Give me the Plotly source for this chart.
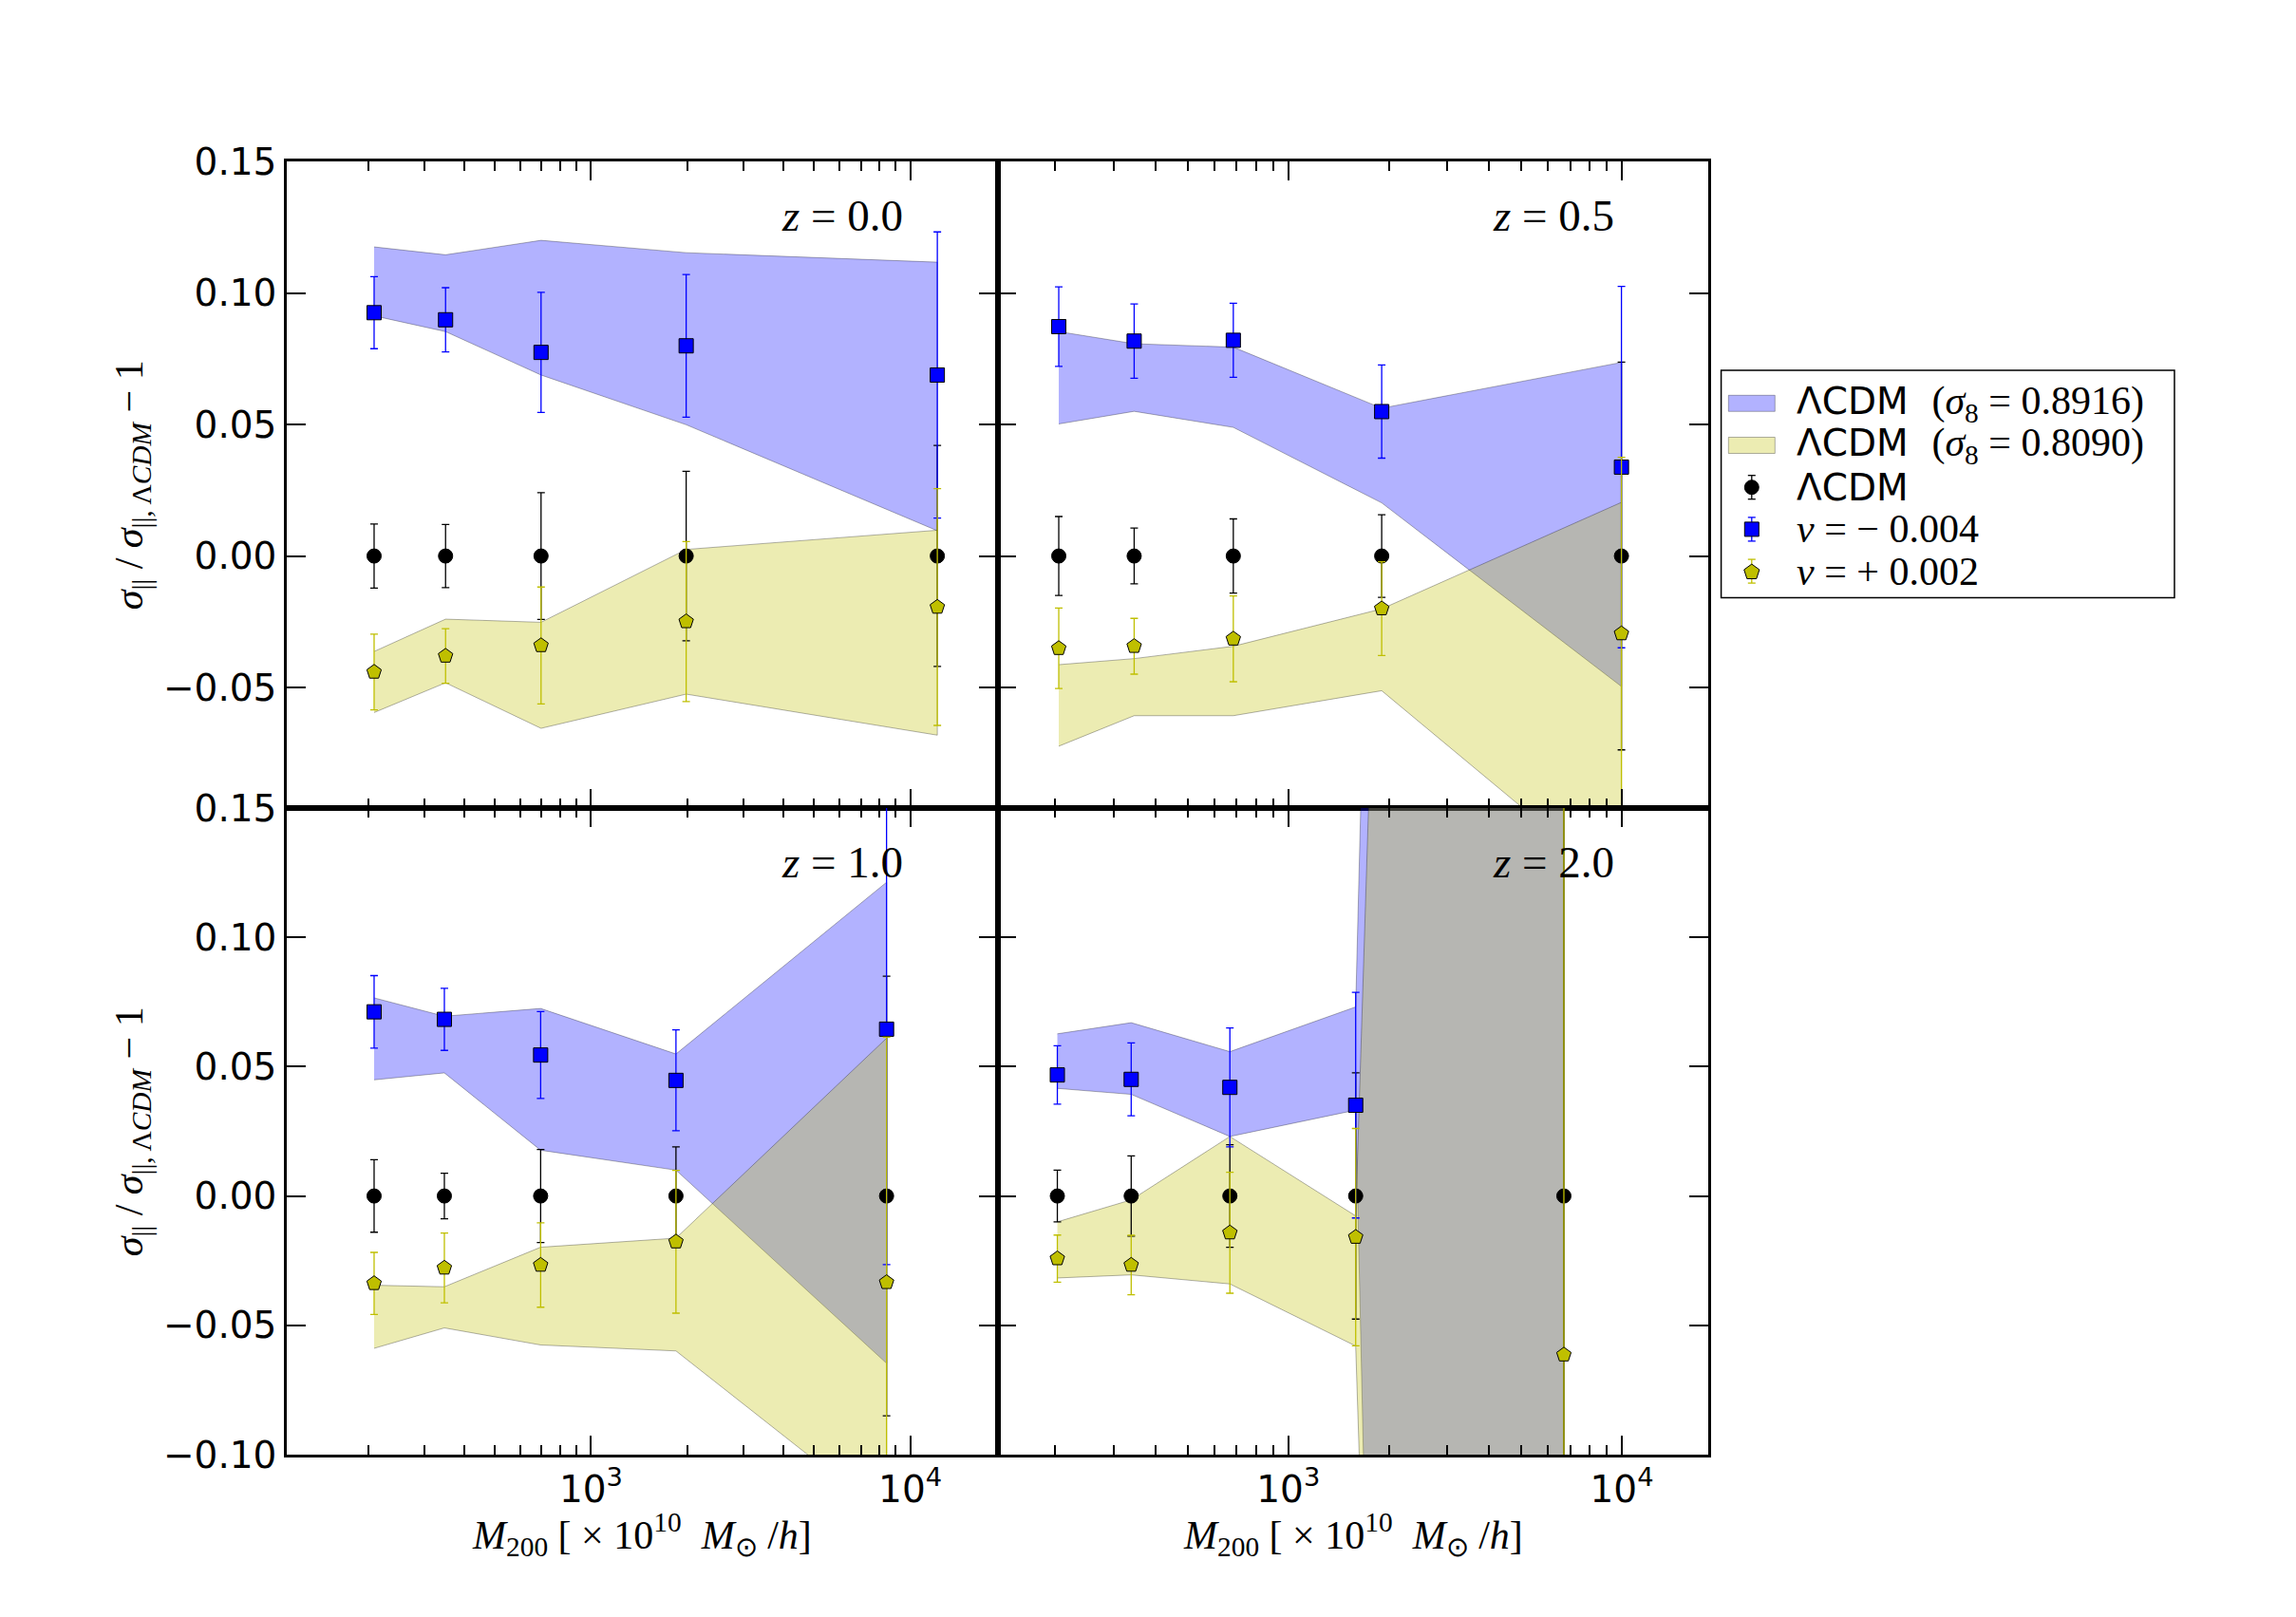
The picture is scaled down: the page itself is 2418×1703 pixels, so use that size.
import math
import plotly.graph_objects as go
from plotly.subplots import make_subplots

# ---------------- data ----------------
panel_labels = ["z = 0.0", "z = 0.5", "z = 1.0", "z = 2.0"]

# halo mass bins (x 10^10 Msun/h) per panel
x_z00 = [209, 350, 697, 1986, 12160]
x_z05 = [205, 345, 684, 1905, 9970]
x_z10 = [209, 347, 695, 1845, 8430]
x_z20 = [203, 338, 668, 1592, 6700]

# nu = -0.004 (blue squares)
blue_z00 = [0.0925, 0.0898, 0.0774, 0.0799, 0.0688]
blue_err_z00 = [0.0137, 0.0122, 0.0228, 0.0271, 0.0544]
blue_z05 = [0.0872, 0.0817, 0.0820, 0.0549, 0.0338]
blue_err_z05 = [0.0151, 0.0141, 0.0141, 0.0177, 0.0687]
blue_z10 = [0.0712, 0.0683, 0.0545, 0.0447, 0.0645]
blue_err_z10 = [0.0140, 0.0120, 0.0168, 0.0195, 0.0910]
blue_z20 = [0.0468, 0.0451, 0.0420, 0.0351, None]
blue_err_z20 = [0.0113, 0.0141, 0.0230, 0.0436, 0.0]

# LCDM reference (black circles)
black_z00 = [0.0, 0.0, 0.0, 0.0, 0.0]
black_err_z00 = [0.0122, 0.0120, 0.0241, 0.0322, 0.0420]
black_z05 = [0.0, 0.0, 0.0, 0.0, 0.0]
black_err_z05 = [0.0150, 0.0106, 0.0141, 0.0157, 0.0737]
black_z10 = [0.0, 0.0, 0.0, 0.0, 0.0]
black_err_z10 = [0.0140, 0.0088, 0.0180, 0.0190, 0.0850]
black_z20 = [0.0, 0.0, 0.0, 0.0, 0.0]
black_err_z20 = [0.0100, 0.0155, 0.0198, 0.0476, 0.5]

# nu = +0.002 (yellow pentagons)
yel_z00 = [-0.0441, -0.0380, -0.0340, -0.0249, -0.0194]
yel_err_z00 = [0.0144, 0.0104, 0.0222, 0.0304, 0.0450]
yel_z05 = [-0.0351, -0.0343, -0.0315, -0.0200, -0.0295]
yel_err_z05 = [0.0153, 0.0106, 0.0163, 0.0178, 0.0670]
yel_z10 = [-0.0338, -0.0278, -0.0267, -0.0177, -0.0334]
yel_err_z10 = [0.0120, 0.0135, 0.0163, 0.0276, 0.0948]
yel_z20 = [-0.0242, -0.0267, -0.0142, -0.0159, -0.0614]
yel_err_z20 = [0.0091, 0.0115, 0.0234, 0.0420, 1.0]

# LCDM sigma8 = 0.8916 band (blue)
bandB_up_z00 = [0.1175, 0.1145, 0.1200, 0.1153, 0.1117]
bandB_lo_z00 = [0.0913, 0.0853, 0.0688, 0.0499, 0.0096]
bandB_up_z05 = [0.0853, 0.0807, 0.0794, 0.0562, 0.0736]
bandB_lo_z05 = [0.0502, 0.0550, 0.0489, 0.0202, -0.0496]
bandB_up_z10 = [0.0766, 0.0695, 0.0725, 0.0549, 0.1213]
bandB_lo_z10 = [0.0449, 0.0476, 0.0177, 0.0100, -0.0647]
bandB_up_z20 = [0.0627, 0.0670, 0.0558, 0.0731, 3.27]
bandB_lo_z20 = [0.0416, 0.0393, 0.0230, 0.0332, -3.57]

# LCDM sigma8 = 0.8090 band (yellow)
bandY_up_z00 = [-0.0363, -0.0240, -0.0252, 0.0025, 0.0098]
bandY_lo_z00 = [-0.0595, -0.0482, -0.0655, -0.0525, -0.0681]
bandY_up_z05 = [-0.0413, -0.0390, -0.0343, -0.0201, 0.0204]
bandY_lo_z05 = [-0.0723, -0.0607, -0.0607, -0.0512, -0.1270]
bandY_up_z10 = [-0.0345, -0.0351, -0.0198, -0.0163, 0.0610]
bandY_lo_z10 = [-0.0589, -0.0510, -0.0576, -0.0599, -0.1240]
bandY_up_z20 = [-0.0100, -0.0015, 0.0230, -0.0077, 2.55]
bandY_lo_z20 = [-0.0317, -0.0305, -0.0340, -0.0580, -2.54]

SER = '<span style="font-family:Liberation Serif;font-size:42px">%s</span>'
legend_names = [
    'ΛCDM  ' + SER % '(<i>σ</i><sub>8</sub> = 0.8916)',
    'ΛCDM  ' + SER % '(<i>σ</i><sub>8</sub> = 0.8090)',
    'ΛCDM',
    SER % '<i>ν</i> = − 0.004',
    SER % '<i>ν</i> = + 0.002',
]

x_tickvals = [1000, 10000]
x_ticktext = ["10<sup>3</sup>", "10<sup>4</sup>"]
x_minor = [200, 300, 400, 500, 600, 700, 800, 900,
           2000, 3000, 4000, 5000, 6000, 7000, 8000, 9000]

# ---------------- figure ----------------
panels = [
    (1, 1, x_z00, blue_z00, blue_err_z00, black_z00, black_err_z00, yel_z00, yel_err_z00,
     bandB_up_z00, bandB_lo_z00, bandY_up_z00, bandY_lo_z00),
    (1, 2, x_z05, blue_z05, blue_err_z05, black_z05, black_err_z05, yel_z05, yel_err_z05,
     bandB_up_z05, bandB_lo_z05, bandY_up_z05, bandY_lo_z05),
    (2, 1, x_z10, blue_z10, blue_err_z10, black_z10, black_err_z10, yel_z10, yel_err_z10,
     bandB_up_z10, bandB_lo_z10, bandY_up_z10, bandY_lo_z10),
    (2, 2, x_z20, blue_z20, blue_err_z20, black_z20, black_err_z20, yel_z20, yel_err_z20,
     bandB_up_z20, bandB_lo_z20, bandY_up_z20, bandY_lo_z20),
]

fig = make_subplots(rows=2, cols=2, horizontal_spacing=0, vertical_spacing=0)

BLUE = "#0000ff"
YEL = "#bfbf00"
BLUE_FILL = "rgba(0,0,255,0.3)"
YEL_FILL = "rgba(191,191,0,0.3)"
edge = "rgba(0,0,0,0.3)"

for i, (r, c, xs, b, be, k, ke, y, ye, bu, bl, yu, yl) in enumerate(panels):
    fig.add_trace(go.Scatter(
        x=xs + xs[::-1], y=bu + bl[::-1], mode="lines", fill="toself",
        fillcolor=BLUE_FILL, line=dict(color=edge, width=1),
        name="LCDM s8=0.8916", showlegend=False), row=r, col=c)
    fig.add_trace(go.Scatter(
        x=xs + xs[::-1], y=yu + yl[::-1], mode="lines", fill="toself",
        fillcolor=YEL_FILL, line=dict(color=edge, width=1),
        name="LCDM s8=0.8090", showlegend=False), row=r, col=c)
    fig.add_trace(go.Scatter(
        x=xs, y=k, mode="markers",
        marker=dict(symbol="circle", size=15, color="black", line=dict(color="black", width=1)),
        error_y=dict(type="data", array=ke, color="black", thickness=1.3, width=4),
        name="LCDM", showlegend=False), row=r, col=c)
    fig.add_trace(go.Scatter(
        x=xs, y=b, mode="markers",
        marker=dict(symbol="square", size=15, color=BLUE, line=dict(color="black", width=1)),
        error_y=dict(type="data", array=be, color=BLUE, thickness=1.3, width=4),
        name="nu=-0.004", showlegend=False), row=r, col=c)
    fig.add_trace(go.Scatter(
        x=xs, y=y, mode="markers",
        marker=dict(symbol="pentagon", size=16, color=YEL, line=dict(color="black", width=1)),
        error_y=dict(type="data", array=ye, color=YEL, thickness=1.3, width=4),
        name="nu=+0.002", showlegend=False), row=r, col=c)

xranges = {1: [111.3, 18770], 2: [134.3, 18150]}
yranges = {1: [-0.0958, 0.15], 2: [-0.10, 0.15]}

tickfont = dict(family="DejaVu Sans", size=39, color="black")

for r in (1, 2):
    for c in (1, 2):
        lo, hi = xranges[c]
        fig.update_xaxes(
            type="log", range=[math.log10(lo), math.log10(hi)],
            showline=True, linecolor="black", linewidth=2.5, mirror="ticks",
            ticks="inside", ticklen=20, tickwidth=2, tickcolor="black",
            tickmode="array", tickvals=x_tickvals, ticktext=x_ticktext,
            showticklabels=(r == 2), tickfont=tickfont, showgrid=False, zeroline=False,
            minor=dict(ticks="inside", ticklen=10, tickwidth=2, tickcolor="black",
                       tickmode="array", tickvals=x_minor, showgrid=False),
            row=r, col=c)
        fig.update_yaxes(
            range=yranges[r], tickmode="linear", tick0=0, dtick=0.05, tickformat=".2f",
            showline=True, linecolor="black", linewidth=2.5, mirror="ticks",
            ticks="inside", ticklen=20, tickwidth=2, tickcolor="black",
            showticklabels=(c == 1), tickfont=tickfont, showgrid=False, zeroline=False,
            row=r, col=c)

annos = []
shapes = []
domain_refs = [("x domain", "y domain"), ("x2 domain", "y2 domain"),
               ("x3 domain", "y3 domain"), ("x4 domain", "y4 domain")]
for (xr, yr), lab in zip(domain_refs, panel_labels):
    zt, rest = lab.split(" ", 1)
    annos.append(dict(xref=xr, yref=yr, x=0.87, y=0.916, xanchor="right", yanchor="middle",
                      text="<i>%s</i> %s" % (zt, rest), showarrow=False,
                      font=dict(family="Liberation Serif", size=47, color="black")))

ytitle = "<i>σ</i><sub>||</sub> / <i>σ</i><sub>||, Λ<i>CDM</i></sub> − 1"
for yc in (0.75, 0.25):
    annos.append(dict(xref="paper", yref="paper", x=-0.109, y=yc, xanchor="center", yanchor="middle",
                      textangle=-90, text=ytitle, showarrow=False,
                      font=dict(family="Liberation Serif", size=42, color="black")))

xtitle = "<i>M</i><sub>200</sub> [ × 10<sup>10</sup>  <i>M</i><sub>⊙</sub> /<i>h</i>]"
for xc in (0.25, 0.75):
    annos.append(dict(xref="paper", yref="paper", x=xc, y=-0.0617, xanchor="center", yanchor="middle",
                      text=xtitle, showarrow=False,
                      font=dict(family="Liberation Serif", size=42, color="black")))

# ---------------- legend (drawn as shapes + annotations) ----------------
L, T, W, H = 302, 170, 1497, 1362  # plot-area geometry in pixels


def px(xp):
    return (xp - L) / W


def py(yp):
    return (T + H - yp) / H


shapes.append(dict(type="rect", xref="paper", yref="paper",
                   x0=px(1812.6), x1=px(2290), y0=py(629.4), y1=py(390),
                   line=dict(color="black", width=1.5), fillcolor="white", layer="above"))

row_y = [424.8, 469.0, 513.2, 557.4, 601.6]
sym_x = 1844.8
text_x = 1889.5

# patches
for ry, fc in zip(row_y[:2], [BLUE_FILL, YEL_FILL]):
    shapes.append(dict(type="rect", xref="paper", yref="paper",
                       xsizemode="pixel", ysizemode="pixel", xanchor=px(sym_x), yanchor=py(ry),
                       x0=-24.5, x1=24.5, y0=-8.5, y1=8.5,
                       line=dict(color=edge, width=1), fillcolor=fc, layer="above"))

# error-bar glyphs
for ry, col in zip(row_y[2:], ["black", BLUE, YEL]):
    shapes.append(dict(type="line", xref="paper", yref="paper",
                       xsizemode="pixel", ysizemode="pixel", xanchor=px(sym_x), yanchor=py(ry),
                       x0=0, x1=0, y0=-12.5, y1=12.5, line=dict(color=col, width=1.3), layer="above"))
    for cy in (-12.5, 12.5):
        shapes.append(dict(type="line", xref="paper", yref="paper",
                           xsizemode="pixel", ysizemode="pixel", xanchor=px(sym_x), yanchor=py(ry),
                           x0=-4, x1=4, y0=cy, y1=cy, line=dict(color=col, width=1.3), layer="above"))

shapes.append(dict(type="circle", xref="paper", yref="paper",
                   xsizemode="pixel", ysizemode="pixel", xanchor=px(sym_x), yanchor=py(row_y[2]),
                   x0=-7.5, x1=7.5, y0=-7.5, y1=7.5,
                   line=dict(color="black", width=1), fillcolor="black", layer="above"))
shapes.append(dict(type="rect", xref="paper", yref="paper",
                   xsizemode="pixel", ysizemode="pixel", xanchor=px(sym_x), yanchor=py(row_y[3]),
                   x0=-7.5, x1=7.5, y0=-7.5, y1=7.5,
                   line=dict(color="black", width=1), fillcolor=BLUE, layer="above"))
pent = []
for j in range(5):
    a = math.pi / 2 + j * 2 * math.pi / 5
    pent.append((8.5 * math.cos(a), 8.5 * math.sin(a) - 1))
pent_path = "M" + " L".join("%.2f,%.2f" % p for p in pent) + " Z"
shapes.append(dict(type="path", xref="paper", yref="paper",
                   xsizemode="pixel", ysizemode="pixel", xanchor=px(sym_x), yanchor=py(row_y[4]),
                   path=pent_path, line=dict(color="black", width=1), fillcolor=YEL, layer="above"))

for ry, name in zip(row_y, legend_names):
    annos.append(dict(xref="paper", yref="paper", x=px(text_x), y=py(ry),
                      xanchor="left", yanchor="middle", text=name, showarrow=False,
                      font=dict(family="DejaVu Sans", size=39, color="black")))

fig.update_layout(
    width=2418, height=1703,
    margin=dict(l=L, r=2418 - L - W, t=T, b=1703 - T - H),
    paper_bgcolor="white", plot_bgcolor="white",
    annotations=annos, shapes=shapes,
    showlegend=False,
)

fig.write_html("out.html")
